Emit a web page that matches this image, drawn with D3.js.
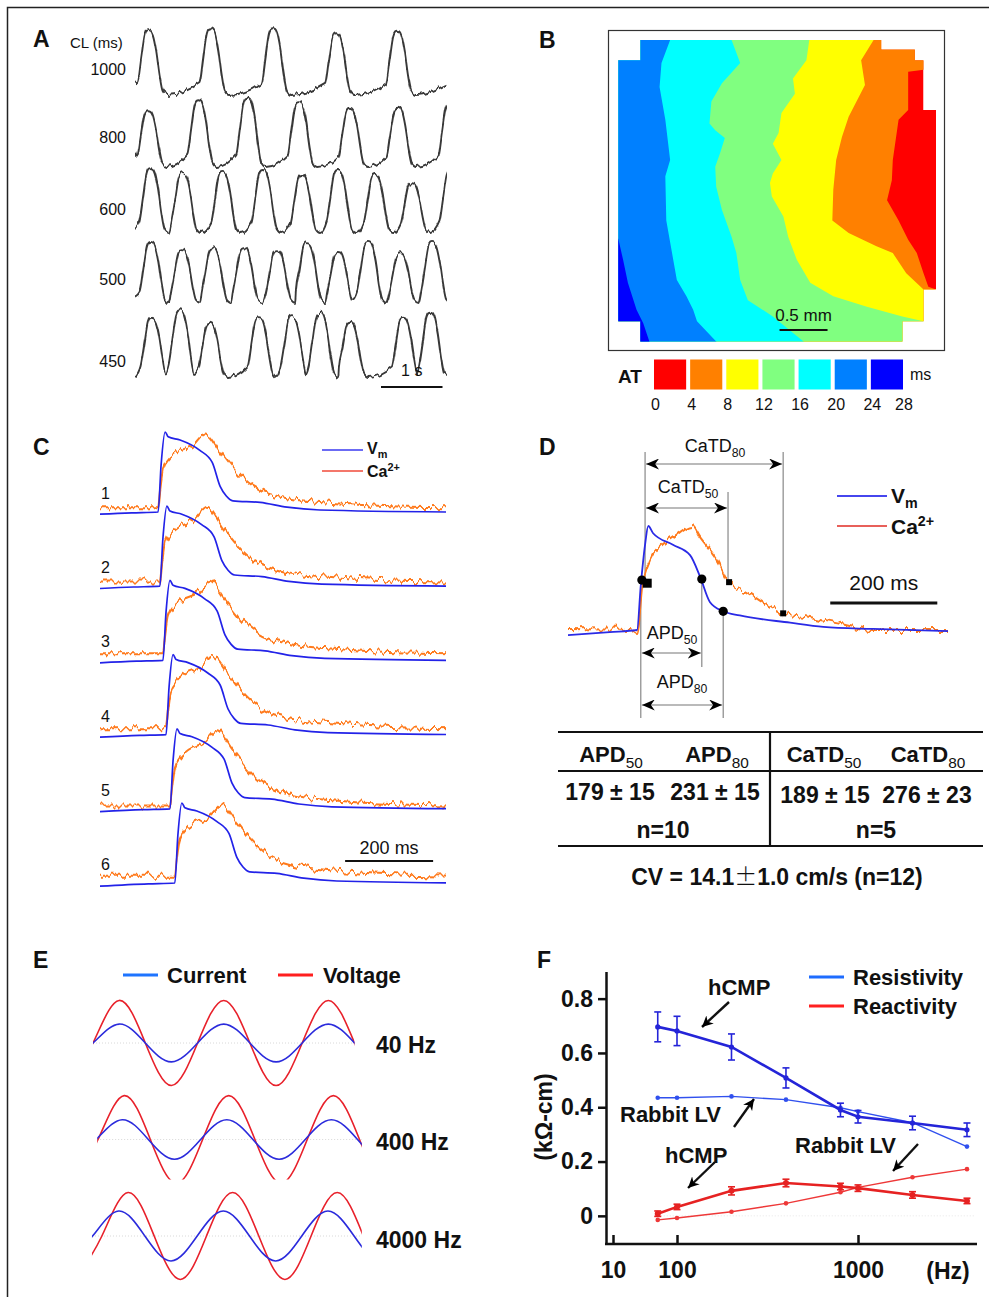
<!DOCTYPE html>
<html>
<head>
<meta charset="utf-8">
<title>hCMP electrophysiology figure</title>
<script src="https://cdn.jsdelivr.net/npm/d3@7/dist/d3.min.js"></script>
<style>
	body { margin: 0; background: #fff; }
	svg { display: block; font-family: "Liberation Sans", Arial, Helvetica, sans-serif; }
</style>
</head>
<body>
<svg id="figure" width="989" height="1297"></svg>
<script>
'use strict';

/* ---------------- data ---------------- */

// A: optical APs at five pacing cycle lengths (peak times in ms, peak heights)
var clLabels = ['1000', '800', '600', '500', '450'];
var clPeaks = [
	[220, 1230, 2240, 3270, 4260],
	[215, 1030, 1825, 2660, 3490, 4270, 5110],
	[250, 772, 1420, 2075, 2710, 3296, 3900, 4500, 5130],
	[255, 760, 1262, 1768, 2305, 2795, 3300, 3788, 4310, 4830],
	[270, 728, 1215, 2012, 2550, 3005, 3495, 4358, 4798]
];
var clAmps = [
	[1.03, 1.06, 1.06, 0.98, 1.02],
	[0.9, 1.06, 1.1, 1.03, 0.94, 0.94, 1.0],
	[1.03, 0.95, 0.97, 1.0, 0.92, 1.0, 0.92, 0.79, 1.0],
	[0.97, 0.84, 0.87, 0.87, 0.84, 0.95, 0.81, 0.97, 0.79, 0.97],
	[0.94, 1.06, 0.86, 0.95, 0.95, 1.02, 0.86, 0.94, 1.02]
];
// level at the left and right end of each trace (0 = trough, 1 = peak)
var clEdges = [[0.2, 0.16], [0.24, 0.2], [0.08, 0.1], [0.1, 0.16], [0, 0.12]];
// AP shape around its peak: [ms from peak, fraction of peak]
var apShape = [[-180, 0.18], [-120, 0.55], [-62, 0.92], [-30, 0.99], [0, 1], [35, 0.99], [70, 0.93],
	[125, 0.68], [180, 0.3], [230, 0.06], [300, 0]];

// B: activation map (mm), isochrones 4..24 ms, earliest on the right
var atTicks = [0, 4, 8, 12, 16, 20, 24, 28];
var atColors = ['#ff0000', '#ff8000', '#ffff00', '#80ff80', '#00ffff', '#0080ff', '#0000ff'];
var mapOutline = [[0.23, 0], [2.74, 0], [2.74, 0.10], [3.09, 0.10], [3.09, 0.21], [3.18, 0.21], [3.18, 0.73],
	[3.31, 0.73], [3.31, 2.60], [3.18, 2.60], [3.18, 2.93], [2.96, 2.93], [2.96, 3.14], [0.23, 3.14],
	[0.23, 2.93], [0, 2.93], [0, 0.21], [0.23, 0.21]];
var isochrones = [
	[[3.6, 0.31], [3.18, 0.31], [3.02, 0.33], [3.02, 0.73], [2.92, 0.83], [2.86, 1.25], [2.85, 1.46], [2.80, 1.67],
		[2.92, 1.88], [3.02, 2.08], [3.11, 2.22], [3.18, 2.43], [3.23, 2.57], [3.31, 2.60], [3.6, 2.62]],
	[[2.66, -0.3], [2.66, 0], [2.53, 0.21], [2.57, 0.47], [2.40, 0.80], [2.33, 1.01], [2.27, 1.25], [2.24, 1.56],
		[2.23, 1.88], [2.40, 2.01], [2.69, 2.15], [2.86, 2.22], [3.00, 2.43], [3.18, 2.60], [3.6, 2.60]],
	[[1.99, -0.3], [1.99, 0], [1.96, 0.21], [1.82, 0.40], [1.84, 0.56], [1.70, 0.76], [1.67, 0.97], [1.61, 1.08],
		[1.70, 1.25], [1.61, 1.39], [1.58, 1.49], [1.60, 1.63], [1.72, 1.84], [1.77, 2.05], [1.86, 2.29], [2.00, 2.53],
		[2.24, 2.67], [2.59, 2.78], [2.96, 2.88], [3.18, 2.93], [3.6, 2.93]],
	[[1.18, -0.3], [1.18, 0], [1.27, 0.24], [1.08, 0.45], [0.97, 0.64], [0.95, 0.87], [1.01, 0.94], [1.11, 1.02],
		[1.06, 1.18], [1.01, 1.32], [1.02, 1.53], [1.08, 1.77], [1.18, 2.05], [1.23, 2.22], [1.27, 2.50], [1.35, 2.71],
		[1.61, 2.88], [1.93, 3.14], [2.1, 3.4]],
	[[0.54, -0.3], [0.54, 0], [0.45, 0.24], [0.43, 0.49], [0.49, 0.83], [0.54, 1.25], [0.49, 1.42], [0.50, 1.88],
		[0.56, 2.22], [0.61, 2.50], [0.71, 2.67], [0.78, 2.81], [0.82, 2.93], [1.02, 3.14], [1.2, 3.4]],
	[[-0.3, 2.07], [0, 2.07], [0.05, 2.29], [0.10, 2.53], [0.19, 2.81], [0.26, 2.95], [0.33, 3.16], [0.4, 3.4]]
];

// C: Vm and Ca2+ transients at six sites (onset in ms from trace start)
var cSites = ['1', '2', '3', '4', '5', '6'];
var cOnsets = [132, 136, 143, 150, 159, 170];
var caLift = [0.06, 0.06, 0.09, 0.08, 0.04, 0.09];
var vmShape = [[-175, -0.04], [-60, -0.01], [0, 0], [7, 0.6], [16, 1], [23, 0.94], [50, 0.9], [95, 0.77],
	[123, 0.62], [141, 0.32], [155, 0.2], [170, 0.14], [232, 0.12], [293, 0.06], [368, 0.025], [660, 0]];
var caShape = [[-175, 0], [0, 0], [5, 0.25], [11, 0.5], [25, 0.64], [43, 0.73], [80, 0.83], [107, 0.98],
	[141, 0.74], [170, 0.52], [216, 0.27], [293, 0.12], [368, 0.07], [500, 0.02], [660, 0]];

// D: single Vm / Ca2+ pair with duration markers
var dVm = [[0, -0.05], [78, -0.02], [129, 0], [136, 0.43], [144, 0.82], [150, 1.0], [159, 0.93], [196, 0.82],
	[228, 0.72], [247, 0.51], [265, 0.27], [290, 0.18], [321, 0.14], [415, 0.07], [477, 0.03], [570, 0.01], [710, -0.01]];
var dCa = [[0, 0.02], [116, 0.01], [129, -0.03], [140, 0.45], [153, 0.67], [172, 0.8], [196, 0.89], [232, 1.0],
	[247, 0.89], [279, 0.67], [301, 0.46], [335, 0.36], [372, 0.24], [402, 0.16], [447, 0.12], [508, 0.06],
	[570, 0], [710, 0]];
var apdMarks = [[138, 0.48], [250, 0.49], [290, 0.18]];
var catdMarks = [[148, 0.45], [301, 0.46], [402, 0.16]];
var tableHead = [['APD', '50'], ['APD', '80'], ['CaTD', '50'], ['CaTD', '80']];
var tableVals = ['179 ± 15', '231 ± 15', '189 ± 15', '276 ± 23'];
var tableN = ['n=10', 'n=5'];

// E: current / voltage waveforms, phase in cycles, amplitude relative to voltage
var eFreqs = ['40 Hz', '400 Hz', '4000 Hz'];
var voltPhase = [0, 0.048, 0.085];
var currPhase = [0, 0.029, -0.004];
var voltAmp = [0.99, 1.02, 1.01];
var currAmp = [0.44, 0.46, 0.58];
var eSpan = [[0, 2.5], [0.04, 2.57], [-0.01, 2.57]];
var sineKeys = [[-0.25, -1], [0, 0], [0.25, 1], [0.5, 0], [0.75, -1], [1, 0], [1.25, 1], [1.5, 0], [1.75, -1],
	[2, 0], [2.25, 1], [2.5, 0], [2.75, -1], [3, 0]];

// F: resistivity / reactivity vs frequency
var fFreq = [50, 100, 200, 400, 800, 1000, 2000, 4000];
var resHcmp = [0.696, 0.681, 0.622, 0.508, 0.39, 0.365, 0.342, 0.317];
var resHcmpErr = [0.055, 0.054, 0.048, 0.037, 0.025, 0.023, 0.025, 0.025];
var resRabbit = [0.435, 0.435, 0.44, 0.428, 0.398, 0.384, 0.343, 0.255];
var reaHcmp = [0.008, 0.033, 0.092, 0.121, 0.108, 0.102, 0.077, 0.055];
var reaHcmpErr = [0.01, 0.01, 0.015, 0.014, 0.012, 0.012, 0.012, 0.01];
var reaRabbit = [-0.015, -0.008, 0.015, 0.046, 0.087, 0.105, 0.142, 0.172];
var fTicksY = [0, 0.2, 0.4, 0.6, 0.8];
var fTicksX = [10, 100, 1000];

/* ---------------- helpers ---------------- */

var svg = d3.select('#figure');
var defs = svg.append('defs');

// recording noise: vertical-only displacement of a trace
function jitter(id, freq, scale, seed) {
	var f = defs.append('filter')
		.attr('id', id)
		.attr('filterUnits', 'userSpaceOnUse')
		.attr('color-interpolation-filters', 'sRGB')
		.attr('x', 0).attr('y', 0).attr('width', 989).attr('height', 1297);
	f.append('feTurbulence')
		.attr('type', 'fractalNoise')
		.attr('baseFrequency', freq)
		.attr('numOctaves', 2)
		.attr('seed', seed)
		.attr('result', 'raw');
	f.append('feColorMatrix')
		.attr('in', 'raw')
		.attr('type', 'matrix')
		.attr('values', '0 0 0 0 0.5  0 1 0 0 0  0 0 1 0 0  0 0 0 0 1')
		.attr('result', 'noise');
	f.append('feDisplacementMap')
		.attr('in', 'SourceGraphic')
		.attr('in2', 'noise')
		.attr('scale', scale)
		.attr('xChannelSelector', 'R')
		.attr('yChannelSelector', 'G');
}
jitter('noise-ca', '0.22 0.02', 13, 4);
jitter('noise-ap', '0.25 0.03', 8, 9);

function arrowMarker(id, len, half) {
	defs.append('marker')
		.attr('id', id)
		.attr('viewBox', [0, -half, len, 2 * half].join(' '))
		.attr('refX', len)
		.attr('refY', 0)
		.attr('markerUnits', 'userSpaceOnUse')
		.attr('markerWidth', len)
		.attr('markerHeight', 2 * half)
		.attr('orient', 'auto-start-reverse')
		.append('path')
		.attr('d', 'M0,' + (-half) + 'L' + len + ',0L0,' + half + 'L' + (len * 0.3) + ',0Z')
		.attr('fill', '#000');
}
arrowMarker('head-d', 13, 5.5);
arrowMarker('head-f', 11, 5.5);

function clipRect(id, x, y, w, h) {
	defs.append('clipPath').attr('id', id)
		.append('rect').attr('x', x).attr('y', y).attr('width', w).attr('height', h);
	return 'url(#' + id + ')';
}

function label(g, x, y, txt, size, opts) {
	opts = opts || {};
	return g.append('text')
		.attr('x', x).attr('y', y)
		.attr('font-size', size)
		.attr('font-weight', opts.bold ? 'bold' : 'normal')
		.attr('text-anchor', opts.anchor || 'start')
		.attr('fill', '#111')
		.text(txt);
}

// text with a lowered (sub) or raised (sup) tail
function indexed(g, x, y, main, tail, size, opts) {
	opts = opts || {};
	var t = label(g, x, y, '', size, opts);
	t.append('tspan').text(main);
	t.append('tspan')
		.attr('font-size', size * (opts.ratio || 0.68))
		.attr('font-weight', opts.tailBold ? 'bold' : 'normal')
		.attr('dy', opts.sup ? -size * 0.38 : size * 0.25)
		.text(tail);
	return t;
}

svg.append('rect')
	.attr('x', 7.5).attr('y', 7.5).attr('width', 1000).attr('height', 1320)
	.attr('fill', 'none').attr('stroke', '#222').attr('stroke-width', 1.5);

[['A', 33, 47], ['B', 539, 48], ['C', 33, 455], ['D', 539, 455], ['E', 33, 968], ['F', 537, 968]]
	.forEach(function(p) { label(svg, p[1], p[2], p[0], 23, {bold: true}); });

/* ---------------- A ---------------- */

var gA = svg.append('g');
var xA = d3.scaleLinear().domain([0, 5000]).range([135, 442.5]);
var yA = d3.scaleLinear().domain([0, 1]).range([0, -63]);
var aRowY = [95, 167, 233, 303, 377];
var aLabelY = [75, 143, 215, 285, 367];
var lineA = d3.line()
	.x(function(d) { return xA(d[0]); })
	.y(function(d) { return yA(d[1]); })
	.curve(d3.curveMonotoneX);

function apTrace(peaks, amps, edge) {
	var pts = [[0, edge[0]]];
	peaks.forEach(function(p, i) {
		var next = peaks[i + 1];
		apShape.forEach(function(s) {
			// the tail of a beat stops where the next upstroke starts
			if (next !== undefined && p + s[0] > next + apShape[0][0] - 10) { return; }
			pts.push([p + s[0], s[1] * amps[i]]);
		});
	});
	var last = peaks[peaks.length - 1];
	if (last + 300 < 5050) { pts.push([5060, edge[1]]); }
	pts = pts.filter(function(d) { return d[0] >= 0; });
	return pts.sort(function(a, b) { return a[0] - b[0]; });
}

var clipA = clipRect('clip-a', 135, 20, 312, 380);
label(gA, 70, 48, 'CL (ms)', 15);
clLabels.forEach(function(cl, i) {
	label(gA, 126, aLabelY[i], cl, 16, {anchor: 'end'});
	gA.append('g')
		.attr('clip-path', clipA)
		.append('g')
		.attr('filter', 'url(#noise-ap)')
		.append('path')
		.attr('transform', 'translate(0,' + aRowY[i] + ')')
		.attr('d', lineA(apTrace(clPeaks[i], clAmps[i], clEdges[i])))
		.attr('fill', 'none')
		.attr('stroke', '#383838')
		.attr('stroke-width', 1.9)
		.attr('stroke-linejoin', 'round');
});
gA.append('line')
	.attr('x1', xA(4000)).attr('x2', xA(5000)).attr('y1', 387).attr('y2', 387)
	.attr('stroke', '#111').attr('stroke-width', 2);
label(gA, xA(4500), 376, '1 s', 16, {anchor: 'middle'});

/* ---------------- B ---------------- */

var gB = svg.append('g');
var xB = d3.scaleLinear().domain([0, 3.31]).range([618.3, 936]);
var yB = d3.scaleLinear().domain([0, 3.14]).range([40, 341.4]);
var polyB = d3.line()
	.x(function(d) { return xB(d[0]); })
	.y(function(d) { return yB(d[1]); });

gB.append('rect')
	.attr('x', 608.5).attr('y', 30.5).attr('width', 336).attr('height', 320)
	.attr('fill', 'none').attr('stroke', '#333').attr('stroke-width', 1.2);

defs.append('clipPath').attr('id', 'clip-map')
	.append('path').attr('d', polyB(mapOutline) + 'Z');
var mapG = gB.append('g').attr('clip-path', 'url(#clip-map)');
mapG.append('path').attr('d', polyB(mapOutline) + 'Z').attr('fill', atColors[0]);

// everything on the late (left) side of each isochrone gets the next colour
isochrones.forEach(function(line, k) {
	var pts = line.slice();
	var first = pts[0], last = pts[pts.length - 1];
	if (last[0] > 3.4) { pts.push([6, last[1]], [6, 6]); } else { pts.push([last[0], 6]); }
	pts.push([-6, 6], [-6, -6]);
	if (first[0] > 3.4) { pts.push([6, -6], [6, first[1]]); }
	mapG.append('path')
		.attr('d', polyB(pts) + 'Z')
		.attr('fill', atColors[k + 1]);
});

gB.append('line')
	.attr('x1', xB(1.68)).attr('x2', xB(2.18)).attr('y1', 330).attr('y2', 330)
	.attr('stroke', '#111').attr('stroke-width', 1.8);
label(gB, xB(1.93), 320.5, '0.5 mm', 17, {anchor: 'middle'});

var xAT = d3.scaleLinear().domain([0, 28]).range([654, 907]);
gB.selectAll('rect.at')
	.data(atColors)
	.enter()
	.append('rect')
	.attr('class', 'at')
	.attr('x', function(d, i) { return xAT(atTicks[i]); })
	.attr('y', 359.5)
	.attr('width', function(d, i) { return xAT(atTicks[i + 1]) - xAT(atTicks[i]) - 4; })
	.attr('height', 30)
	.attr('fill', function(d) { return d; });
atTicks.forEach(function(t, i) {
	var x = i === atTicks.length - 1 ? xAT(t) - 3 : xAT(t) + 1.5;
	label(gB, x, 410, String(t), 16, {anchor: 'middle'});
});
label(gB, 618, 383, 'AT', 19, {bold: true});
label(gB, 910, 380, 'ms', 16);

/* ---------------- C ---------------- */

var gC = svg.append('g');
var xC = d3.scaleLinear().domain([0, 784]).range([100, 445]);
var yC = d3.scaleLinear().domain([0, 1]).range([0, -80]);
var lineC = d3.line()
	.x(function(d) { return xC(d[0]); })
	.y(function(d) { return yC(d[1]); })
	.curve(d3.curveMonotoneX);
var clipC = clipRect('clip-c', 100, 420, 346, 480);

cSites.forEach(function(site, i) {
	var base = 512 + i * 74.2;
	var t0 = cOnsets[i], lift = caLift[i];
	var vm = vmShape.map(function(d) { return [t0 + d[0], d[1]]; });
	var ca = caShape.map(function(d) { return [t0 + d[0], d[1] + lift * (1 - d[1])]; });
	var row = gC.append('g').attr('clip-path', clipC);
	row.append('g')
		.attr('filter', 'url(#noise-ca)')
		.append('path')
		.attr('transform', 'translate(0,' + base + ')')
		.attr('d', lineC(ca))
		.attr('fill', 'none').attr('stroke', '#ff7a1c').attr('stroke-width', 2);
	row.append('path')
		.attr('transform', 'translate(0,' + base + ')')
		.attr('d', lineC(vm))
		.attr('fill', 'none').attr('stroke', '#2222e8').attr('stroke-width', 1.7);
	label(gC, 101, base - 13, site, 16);
});

gC.append('line').attr('x1', 322).attr('x2', 363).attr('y1', 450).attr('y2', 450)
	.attr('stroke', '#3a3af0').attr('stroke-width', 1.5);
gC.append('line').attr('x1', 322).attr('x2', 363).attr('y1', 471).attr('y2', 471)
	.attr('stroke', '#f04a3a').attr('stroke-width', 1.5);
indexed(gC, 367, 454, 'V', 'm', 16, {bold: true, tailBold: true});
indexed(gC, 367, 477, 'Ca', '2+', 16, {bold: true, tailBold: true, sup: true});

gC.append('line')
	.attr('x1', xC(557)).attr('x2', xC(757)).attr('y1', 861).attr('y2', 861)
	.attr('stroke', '#111').attr('stroke-width', 2);
label(gC, xC(657), 854, '200 ms', 18, {anchor: 'middle'});

/* ---------------- D ---------------- */

var gD = svg.append('g');
var xD = d3.scaleLinear().domain([0, 710]).range([568, 948]);
var yD = d3.scaleLinear().domain([0, 1]).range([630, 526]);
var lineD = d3.line()
	.x(function(d) { return xD(d[0]); })
	.y(function(d) { return yD(d[1]); })
	.curve(d3.curveMonotoneX);

// guide lines: [time, top, bottom]
[[136, 580, 718], [144, 452, 583], [299, 492, 582], [402, 452, 613], [250, 579, 667], [290, 611, 718]]
	.forEach(function(g) {
		gD.append('line')
			.attr('x1', xD(g[0])).attr('x2', xD(g[0])).attr('y1', g[1]).attr('y2', g[2])
			.attr('stroke', '#888').attr('stroke-width', 1.2);
	});

var clipD = clipRect('clip-d', 568, 500, 381, 150);
var traceD = gD.append('g').attr('clip-path', clipD);
traceD.append('g')
	.attr('filter', 'url(#noise-ca)')
	.append('path')
	.attr('d', lineD(dCa))
	.attr('fill', 'none').attr('stroke', '#ff7a1c').attr('stroke-width', 2);
traceD.append('path')
	.attr('d', lineD(dVm))
	.attr('fill', 'none').attr('stroke', '#2a2ae6').attr('stroke-width', 1.8);

gD.selectAll('circle.apd')
	.data(apdMarks)
	.enter()
	.append('circle')
	.attr('cx', function(d) { return xD(d[0]); })
	.attr('cy', function(d) { return yD(d[1]); })
	.attr('r', 4.6)
	.attr('fill', '#000');
gD.selectAll('rect.catd')
	.data(catdMarks)
	.enter()
	.append('rect')
	.attr('x', function(d, i) { return xD(d[0]) - (i ? 3 : 4.5); })
	.attr('y', function(d, i) { return yD(d[1]) - (i ? 3 : 4.5); })
	.attr('width', function(d, i) { return i ? 6 : 9; })
	.attr('height', function(d, i) { return i ? 6 : 9; })
	.attr('fill', '#000');

// double arrows: [start, end, y]
[[144, 402, 464], [144, 299, 508], [136, 250, 653], [136, 290, 705]].forEach(function(a) {
	gD.append('line')
		.attr('x1', xD(a[0]) + 1).attr('x2', xD(a[1]) - 1).attr('y1', a[2]).attr('y2', a[2])
		.attr('stroke', '#777').attr('stroke-width', 1.2)
		.attr('marker-start', 'url(#head-d)')
		.attr('marker-end', 'url(#head-d)');
});
indexed(gD, 715, 452, 'CaTD', '80', 18, {anchor: 'middle'});
indexed(gD, 688, 493, 'CaTD', '50', 18, {anchor: 'middle'});
indexed(gD, 672, 639, 'APD', '50', 18, {anchor: 'middle'});
indexed(gD, 682, 688, 'APD', '80', 18, {anchor: 'middle'});

gD.append('line').attr('x1', 837).attr('x2', 887).attr('y1', 496).attr('y2', 496)
	.attr('stroke', '#4646ee').attr('stroke-width', 2);
gD.append('line').attr('x1', 837).attr('x2', 887).attr('y1', 526).attr('y2', 526)
	.attr('stroke', '#e8605a').attr('stroke-width', 2);
indexed(gD, 891, 503, 'V', 'm', 21, {bold: true, tailBold: true});
indexed(gD, 891, 534, 'Ca', '2+', 21, {bold: true, tailBold: true, sup: true});

gD.append('line')
	.attr('x1', xD(490)).attr('x2', xD(690)).attr('y1', 603).attr('y2', 603)
	.attr('stroke', '#111').attr('stroke-width', 3);
label(gD, xD(590), 590, '200 ms', 21, {anchor: 'middle'});

// table
var tab = gD.append('g').attr('stroke', '#111').attr('stroke-width', 2.2);
[732, 771, 846].forEach(function(y) {
	tab.append('line').attr('x1', 558).attr('x2', 983).attr('y1', y).attr('y2', y);
});
tab.append('line').attr('x1', 770).attr('x2', 770).attr('y1', 732).attr('y2', 846);

var colX = [611, 717, 824, 928];
tableHead.forEach(function(h, i) {
	indexed(gD, colX[i], 762, h[0], h[1], 22, {bold: true, anchor: 'middle', ratio: 0.7});
});
var valX = [610, 715, 825, 927];
tableVals.forEach(function(v, i) {
	label(gD, valX[i], i < 2 ? 800 : 803, v, 23, {bold: true, anchor: 'middle'});
});
label(gD, 663, 838, tableN[0], 23, {bold: true, anchor: 'middle'});
label(gD, 876, 838, tableN[1], 23, {bold: true, anchor: 'middle'});
var cv = label(gD, 777, 885, '', 23, {bold: true, anchor: 'middle'});
cv.append('tspan').text('CV = 14.1');
cv.append('tspan').attr('font-weight', 300).attr('font-family', '"Noto Sans CJK SC", sans-serif').text('±');
cv.append('tspan').text('1.0 cm/s (n=12)');

/* ---------------- E ---------------- */

var gE = svg.append('g');
var xE = d3.scaleLinear().domain([0, 2.5]).range([93, 354.5]);
var yE = d3.scaleLinear().domain([-1, 1]).range([43, -43]);
var lineE = d3.line()
	.x(function(d) { return xE(d[0]); })
	.y(function(d) { return yE(d[1]); })
	.curve(d3.curveNatural);
var eClipBottom = [46, 40, 46];

eFreqs.forEach(function(f, i) {
	var axisY = 1043 + i * 96.5;
	var span = eSpan[i];
	var clip = clipRect('clip-e' + i, xE(span[0]), axisY - 47, xE(span[1]) - xE(span[0]), 47 + eClipBottom[i]);
	var row = gE.append('g').attr('transform', 'translate(0,' + axisY + ')');
	row.append('line')
		.attr('x1', xE(span[0])).attr('x2', xE(span[1])).attr('y1', 0).attr('y2', 0)
		.attr('stroke', '#d8d8d8').attr('stroke-width', 1).attr('stroke-dasharray', '1,2');
	var waves = gE.append('g').attr('clip-path', clip)
		.append('g').attr('transform', 'translate(0,' + axisY + ')');
	waves.append('path')
		.attr('d', lineE(sineKeys.map(function(k) { return [k[0] + voltPhase[i], k[1] * voltAmp[i]]; })))
		.attr('fill', 'none').attr('stroke', '#e8212b').attr('stroke-width', 1.6);
	waves.append('path')
		.attr('d', lineE(sineKeys.map(function(k) { return [k[0] + currPhase[i], k[1] * currAmp[i]]; })))
		.attr('fill', 'none').attr('stroke', '#2b2bdc').attr('stroke-width', 1.6);
	label(gE, 376, axisY + 10 + (i === 2 ? 2 : 0), f, 23, {bold: true});
});

gE.append('line').attr('x1', 123).attr('x2', 158).attr('y1', 975).attr('y2', 975)
	.attr('stroke', '#1e74ff').attr('stroke-width', 3);
label(gE, 167, 983, 'Current', 22, {bold: true});
gE.append('line').attr('x1', 278).attr('x2', 313).attr('y1', 975).attr('y2', 975)
	.attr('stroke', '#ff1f1f').attr('stroke-width', 3);
label(gE, 323, 983, 'Voltage', 22, {bold: true});

/* ---------------- F ---------------- */

var gF = svg.append('g');
var xF = d3.scaleLog().domain([10, 100, 1000]).range([613, 677, 858]);
var yF = d3.scaleLinear().domain([-0.1, 0.9]).range([1243, 971.5]);

gF.append('line')
	.attr('x1', xF(50)).attr('x2', 975).attr('y1', yF(0)).attr('y2', yF(0))
	.attr('stroke', '#e6e6e6').attr('stroke-dasharray', '1,2');

var yAxis = gF.append('g')
	.attr('transform', 'translate(606,0)')
	.call(d3.axisLeft(yF)
		.tickValues(fTicksY)
		.tickSize(8)
		.tickSizeOuter(0)
		.tickPadding(5)
		.tickFormat(function(d) { return d === 0 ? '0' : d3.format('.1f')(d); }));
var xAxis = gF.append('g')
	.attr('transform', 'translate(0,1244)')
	.call(d3.axisBottom(xF)
		.tickValues(fTicksX)
		.tickSizeInner(-9)
		.tickSizeOuter(0)
		.tickPadding(18)
		.tickFormat(d3.format('d')));
xAxis.select('.domain').remove();
gF.append('line').attr('x1', 605).attr('x2', 977).attr('y1', 1244).attr('y2', 1244)
	.attr('stroke', '#111').attr('stroke-width', 2.5);
[yAxis, xAxis].forEach(function(ax) {
	ax.selectAll('path, line').attr('stroke', '#111').attr('stroke-width', 2.5);
	ax.selectAll('text')
		.attr('font-size', 23)
		.attr('font-weight', 'bold')
		.attr('font-family', '"Liberation Sans", Arial, sans-serif')
		.attr('fill', '#111');
});
label(gF, 948, 1279, '(Hz)', 23, {bold: true, anchor: 'middle'});
label(gF, 0, 0, '(kΩ-cm)', 23, {bold: true, anchor: 'middle'})
	.attr('transform', 'translate(552,1117) rotate(-90)');

function series(values, errs, color, width, dotR) {
	var pts = values.map(function(v, i) { return [fFreq[i], v, errs ? errs[i] : 0]; });
	var line = d3.line()
		.x(function(d) { return xF(d[0]); })
		.y(function(d) { return yF(d[1]); });
	gF.append('path')
		.attr('d', line(pts))
		.attr('fill', 'none').attr('stroke', color).attr('stroke-width', width);
	if (errs) {
		var eb = gF.append('g').attr('stroke', color).attr('stroke-width', 1.6);
		pts.forEach(function(d) {
			var x = xF(d[0]);
			eb.append('line').attr('x1', x).attr('x2', x).attr('y1', yF(d[1] - d[2])).attr('y2', yF(d[1] + d[2]));
			eb.append('line').attr('x1', x - 3.5).attr('x2', x + 3.5).attr('y1', yF(d[1] - d[2])).attr('y2', yF(d[1] - d[2]));
			eb.append('line').attr('x1', x - 3.5).attr('x2', x + 3.5).attr('y1', yF(d[1] + d[2])).attr('y2', yF(d[1] + d[2]));
		});
	}
	gF.selectAll(null)
		.data(pts)
		.enter()
		.append('circle')
		.attr('cx', function(d) { return xF(d[0]); })
		.attr('cy', function(d) { return yF(d[1]); })
		.attr('r', dotR)
		.attr('fill', color);
}
series(resRabbit, null, '#3050ee', 1.4, 2.3);
series(resHcmp, resHcmpErr, '#2424d8', 2.6, 2.6);
series(reaRabbit, null, '#ee3838', 1.4, 2.3);
series(reaHcmp, reaHcmpErr, '#e62222', 2.6, 3);

// annotations: text, text position, arrow from -> to
[['hCMP', 708, 995, 729, 1002, 702, 1027],
	['Rabbit LV', 620, 1122, 734, 1127, 754, 1099],
	['hCMP', 665, 1163, 715, 1162, 688, 1188],
	['Rabbit LV', 795, 1153, 918, 1144, 893, 1171]].forEach(function(a) {
	label(gF, a[1], a[2], a[0], 22, {bold: true});
	gF.append('line')
		.attr('x1', a[3]).attr('y1', a[4]).attr('x2', a[5]).attr('y2', a[6])
		.attr('stroke', '#111').attr('stroke-width', 2.4)
		.attr('marker-end', 'url(#head-f)');
});

gF.append('line').attr('x1', 809).attr('x2', 844).attr('y1', 977).attr('y2', 977)
	.attr('stroke', '#1e6cff').attr('stroke-width', 3);
label(gF, 853, 985, 'Resistivity', 22, {bold: true});
gF.append('line').attr('x1', 809).attr('x2', 844).attr('y1', 1006).attr('y2', 1006)
	.attr('stroke', '#ff2020').attr('stroke-width', 3);
label(gF, 853, 1014, 'Reactivity', 22, {bold: true});
</script>
</body>
</html>
